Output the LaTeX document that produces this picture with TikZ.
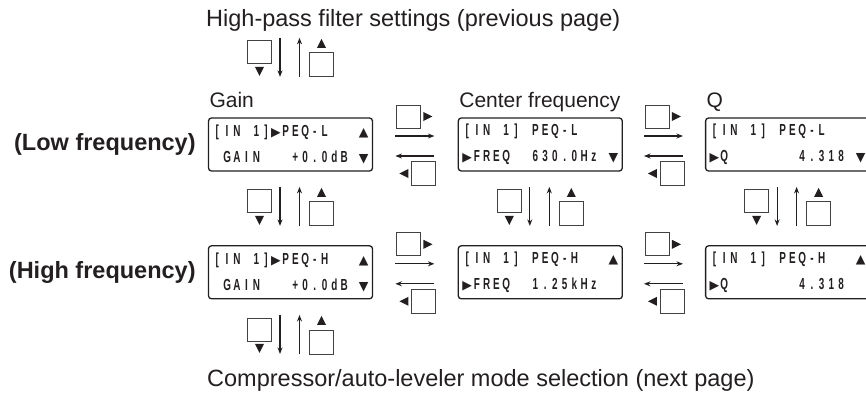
\documentclass[tikz,border=0pt]{standalone}
\usepackage{fontspec}
\setmainfont{Liberation Sans}
\newfontfamily\lcdfont[FakeStretch=0.62]{Liberation Sans}
\newfontfamily\symfont{DejaVu Sans}
\usetikzlibrary{arrows.meta, calc, positioning}

\definecolor{ink}{HTML}{231F20}

% LCD characters sit in fixed cells, 16 per row
\newlength\lcdpitch
\setlength\lcdpitch{9.75pt}
\def\lcdscan#1{\ifx\relax#1\else\makebox[\lcdpitch][c]{#1}\expandafter\lcdscan\fi}
\newcommand\lcdrow[1]{\lcdscan#1\relax}
\newcommand\lcdR{{\symfont\fontsize{12.5}{12}\selectfont ▶}}
\newcommand\lcdU{{\symfont\fontsize{12.5}{12}\selectfont ▲}}
\newcommand\lcdD{{\symfont\fontsize{12.5}{12}\selectfont ▼}}

\begin{document}
\begin{tikzpicture}[
    x=1pt, y=-1pt,
    >=Stealth,
    every node/.style={text=ink},
    lcd/.style={draw=ink, line width=1.3pt, rounded corners=3pt,
        minimum width=164pt, minimum height=53pt, inner sep=0pt, align=center,
        font=\lcdfont\bfseries\fontsize{16}{26}\selectfont},
    keysq/.style={draw=ink!85, line width=0.9pt},
    keytip/.style={fill=ink},
    keyarrow/.style={draw=ink, line width=1.1pt, -{Stealth[length=6.5pt, width=5pt]}},
    collabel/.style={font=\fontsize{21}{24}\selectfont, inner sep=0pt, anchor=base west},
    rowlabel/.style={font=\bfseries\fontsize{23.5}{28}\selectfont, inner sep=0pt},
    pagenote/.style={font=\fontsize{23.5}{26}\selectfont, inner sep=0pt, anchor=base west},
    % up/down key pair between two screens
    vkeys/.pic={
        \draw[keysq] (-43,-17) rectangle (-19,6);
        \fill[keytip] (-35.5,9) -- (-26.5,9) -- (-31,18) -- cycle;
        \draw[keyarrow] (-10.5,-20) -- (-10.5,19);
        \draw[keyarrow] (9,19) -- (9,-20);
        \fill[keytip] (26.5,-10) -- (35.5,-10) -- (31,-19) -- cycle;
        \draw[keysq] (19,-5) rectangle (43,19);
    },
    % right/left key pair between two screens
    hkeys/.pic={
        \draw[keysq] (-19,-39.5) rectangle (5,-16.5);
        \fill[keytip] (8,-32.5) -- (8,-23.5) -- (17,-28) -- cycle;
        \draw[keyarrow] (-20,-8.5) -- (19,-8.5);
        \draw[keyarrow] (19,11.5) -- (-20,11.5);
        \fill[keytip] (-7,24.5) -- (-7,33.5) -- (-16,29) -- cycle;
        \draw[keysq] (-4,17) rectangle (20,41);
    },
]

\useasboundingbox (0,0) rectangle (866,394);
\clip (0,0) rectangle (866,394);

% =============================================================================
% Screens
% =============================================================================
% --- Low frequency row ---
\node[lcd] (lo1) at (290.5,144.5)
    {\lcdrow{[IN~1]\lcdR PEQ-L~~~\lcdU}\\\lcdrow{~GAIN~~~+0.0dB~\lcdD}};
\node[lcd, right=84.5pt of lo1] (lo2)
    {\lcdrow{[IN~1]~PEQ-L~~~~}\\\lcdrow{\lcdR FREQ~~630.0Hz~\lcdD}};
\node[lcd, right=82pt of lo2] (lo3)
    {\lcdrow{[IN~1]~PEQ-L~~~~}\\\lcdrow{\lcdR Q~~~~~~~4.318~\lcdD}};

% --- High frequency row ---
\node[lcd, below=73.5pt of lo1] (hi1)
    {\lcdrow{[IN~1]\lcdR PEQ-H~~~\lcdU}\\\lcdrow{~GAIN~~~+0.0dB~\lcdD}};
\node[lcd, right=84.5pt of hi1] (hi2)
    {\lcdrow{[IN~1]~PEQ-H~~~\lcdU}\\\lcdrow{\lcdR FREQ~~1.25kHz~~}};
\node[lcd, right=82pt of hi2] (hi3)
    {\lcdrow{[IN~1]~PEQ-H~~~\lcdU}\\\lcdrow{\lcdR Q~~~~~~~4.318~~}};

% =============================================================================
% Labels
% =============================================================================
\node[collabel] (gainlab) at ($(lo1.north west)+(1.5,-10)$) {Gain};
\node[collabel] (freqlab) at ($(lo2.north west)+(1.5,-10)$) {Center frequency};
\node[collabel] (qlab) at ($(lo3.north west)+(1.5,-10)$) {Q};

\node[rowlabel, left=12pt of lo1] (lowlab) {(Low frequency)};
\node[rowlabel, left=12pt of hi1] (highlab) {(High frequency)};

\node[pagenote] (prev) at (206,26) {High-pass filter settings (previous page)};
\node[pagenote] (next) at (207,386) {Compressor/auto-leveler mode selection (next page)};

% =============================================================================
% Keys
% =============================================================================
\pic at ($(lo1.north)+(0,-59.5)$) {vkeys};
\foreach \a/\b in {lo1/hi1, lo2/hi2, lo3/hi3}
    \pic at ($(\a.south)!.5!(\b.north)+(0,-1.5)$) {vkeys};
\pic at ($(hi1.south)+(0,35.5)$) {vkeys};

\foreach \a/\b in {lo1/lo2, lo2/lo3, hi1/hi2, hi2/hi3}
    \pic at ($(\a.east)!.5!(\b.west)$) {hkeys};

\end{tikzpicture}
\end{document}
